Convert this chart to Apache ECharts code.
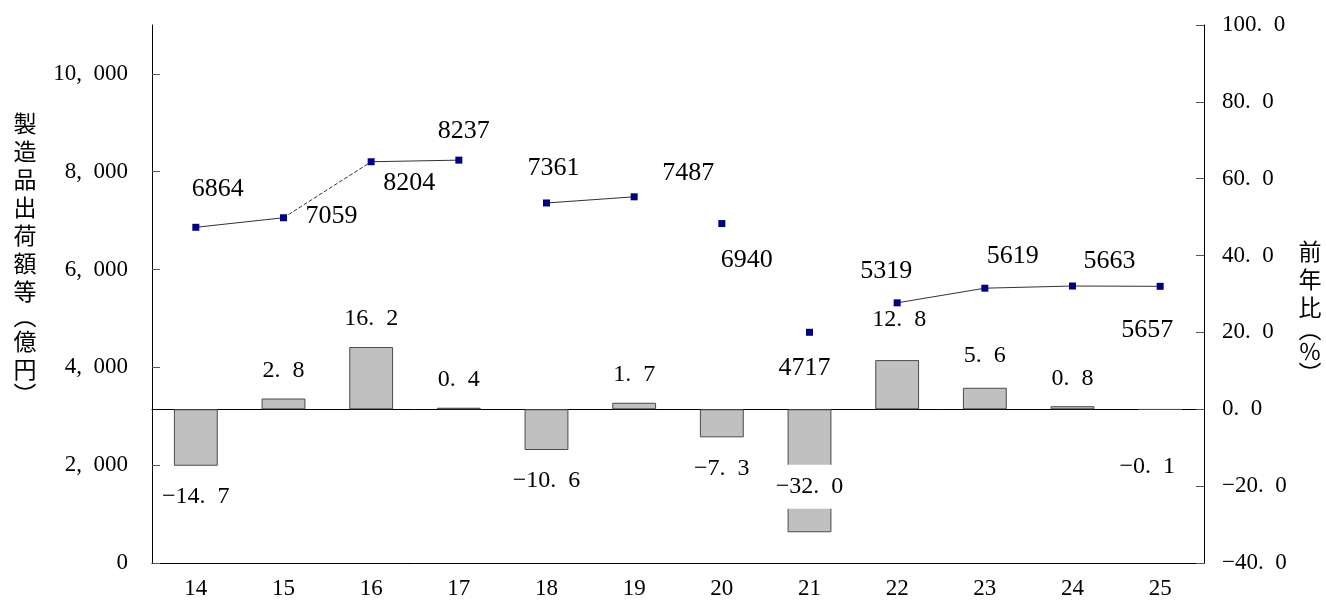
<!DOCTYPE html>
<html>
<head>
<meta charset="utf-8">
<style>
  html, body { margin: 0; padding: 0; background: #fff; }
  #chart { width: 1326px; height: 603px; }
</style>
<script src="https://cdn.jsdelivr.net/npm/echarts@6/dist/echarts.min.js"></script>
</head>
<body>
<div id="chart"></div>
<script>
// Fiscal years on the category axis
const years = ['14', '15', '16', '17', '18', '19', '20', '21', '22', '23', '24', '25'];
// Shipment value of manufactured goods (100 million yen) – line
const shipments = [6864, 7059, 8204, 8237, 7361, 7487, 6940, 4717, 5319, 5619, 5663, 5657];
// Year-on-year change (%) – bars
const yoyChange = [-14.7, 2.8, 16.2, 0.4, -10.6, 1.7, -7.3, -32.0, 12.8, 5.6, 0.8, -0.1];
// Left axis tick values
const shipmentTicks = [0, 2000, 4000, 6000, 8000, 10000];
// Which neighbouring years are joined, and how
const links = [[0, 1, 'solid'], [1, 2, 'dashed'], [2, 3, 'solid'], [4, 5, 'solid'],
               [8, 9, 'solid'], [9, 10, 'solid'], [10, 11, 'solid']];

// Label placement (pixel offsets from each marker)
const shipLabelOffset = [[22, -38], [48, -2], [38, 21], [5, -29], [7, -35], [54, -24],
                         [25, 37], [-5, 36], [-11, -32], [28, -32], [37, -25], [-13, 44]];
// Extra nudges for a few bar labels
const barLabelNudge = { 8: [2, -12], 9: [0, -4], 11: [-13, 26] };

const NUM_FONT = '"Liberation Serif", "DejaVu Serif", serif';
const CJK_FONT = '"Noto Sans CJK JP", "Noto Sans CJK SC", sans-serif';
const GAP = '\u2002';

function fmtPct(v) {
  return v.toFixed(1).replace('.', '.' + GAP).replace('-', '\u2212');
}
function fmtThousands(v) {
  return v.toLocaleString('en-US').replace(',', ',' + GAP);
}

const chart = echarts.init(document.getElementById('chart'), null, { renderer: 'canvas' });

const lineSeries = links.map(([a, b, style]) => ({
  type: 'line',
  xAxisIndex: 0,
  yAxisIndex: 0,
  data: shipments.map((v, i) => (i === a || i === b) ? v : null),
  connectNulls: false,
  showSymbol: false,
  symbol: 'none',
  silent: true,
  animation: false,
  lineStyle: { color: '#333333', width: 1, type: style === 'dashed' ? [4, 2] : 'solid' },
  z: 3
}));

const barData = yoyChange.map((v, i) => {
  const item = { value: v, label: {} };
  if (i === 7) {
    item.label = {
      position: 'inside',
      offset: [0, 16],
      backgroundColor: '#ffffff',
      padding: [10, 4]
    };
  } else {
    item.label.position = v >= 0 ? 'top' : 'bottom';
    item.label.distance = v >= 0 ? 16 : 19;
    if (barLabelNudge[i]) item.label.offset = barLabelNudge[i];
  }
  return item;
});

const option = {
  backgroundColor: '#ffffff',
  animation: false,
  grid: { left: 152, right: 122, top: 25, bottom: 40, containLabel: false },
  xAxis: [
    {
      type: 'category',
      data: years,
      position: 'bottom',
      boundaryGap: true,
      axisLine: { onZero: false, lineStyle: { color: '#000', width: 1 } },
      axisTick: { inside: true, length: 8, lineStyle: { color: '#555' } },
      axisLabel: { color: '#000', fontFamily: NUM_FONT, fontSize: 23, margin: 14 },
      splitLine: { show: false }
    },
    {
      type: 'category',
      data: years,
      position: 'top',
      boundaryGap: true,
      axisLine: { onZero: true, onZeroAxisIndex: 1, lineStyle: { color: '#000', width: 1 } },
      axisTick: { inside: false, length: 8, lineStyle: { color: '#555' } },
      axisLabel: { show: false },
      splitLine: { show: false }
    }
  ],
  yAxis: [
    {
      type: 'value',
      min: 0,
      max: 11000,
      interval: 2000,
      position: 'left',
      axisLine: { show: true, lineStyle: { color: '#000', width: 1 } },
      axisTick: { show: true, inside: true, length: 8, customValues: shipmentTicks, lineStyle: { color: '#555' } },
      axisLabel: {
        customValues: shipmentTicks,
        color: '#000', fontFamily: NUM_FONT, fontSize: 23, margin: 24,
        formatter: v => fmtThousands(v)
      },
      splitLine: { show: false }
    },
    {
      type: 'value',
      min: -40,
      max: 100,
      interval: 20,
      position: 'right',
      axisLine: { show: true, lineStyle: { color: '#000', width: 1 } },
      axisTick: { show: true, inside: true, length: 8, lineStyle: { color: '#555' } },
      axisLabel: {
        color: '#000', fontFamily: NUM_FONT, fontSize: 23, margin: 18,
        formatter: v => fmtPct(v)
      },
      splitLine: { show: false }
    }
  ],
  series: [
    {
      type: 'bar',
      name: '前年比',
      xAxisIndex: 0,
      yAxisIndex: 1,
      barWidth: '50%',
      data: barData,
      itemStyle: { color: '#c0c0c0', borderColor: '#4a4a4a', borderWidth: 1 },
      label: {
        show: true,
        color: '#000',
        fontFamily: NUM_FONT,
        fontSize: 24,
        formatter: p => fmtPct(p.value)
      },
      z: 2
    },
    ...lineSeries,
    {
      type: 'scatter',
      name: '製造品出荷額等',
      xAxisIndex: 0,
      yAxisIndex: 0,
      symbol: 'rect',
      symbolSize: 7,
      itemStyle: { color: '#000080', opacity: 1 },
      data: shipments.map((v, i) => ({
        value: v,
        label: { offset: shipLabelOffset[i] }
      })),
      label: {
        show: true,
        position: 'inside',
        color: '#000',
        fontFamily: NUM_FONT,
        fontSize: 26,
        formatter: p => String(p.value)
      },
      z: 5
    }
  ],
  graphic: [
    {
      type: 'text',
      left: 13,
      top: 112,
      style: {
        text: ['製', '造', '品', '出', '荷', '額', '等'].map(c => '{c|' + c + '}').join('\n')
          + '\n{p|\uFE35}\n{c|億}\n{c|円}\n{p|\uFE36}',
        fontFamily: CJK_FONT,
        fill: '#000',
        rich: {
          c: { fontSize: 23, lineHeight: 28, fontFamily: CJK_FONT, fill: '#000', align: 'center', width: 24 },
          p: { fontSize: 23, lineHeight: 22, fontFamily: CJK_FONT, fill: '#000', align: 'center', width: 24 }
        }
      }
    },
    {
      type: 'text',
      left: 1298,
      top: 240,
      style: {
        text: '{c|前}\n{c|年}\n{c|比}\n{p|\uFE35}\n{c|％}\n{p|\uFE36}',
        fontFamily: CJK_FONT,
        fill: '#000',
        rich: {
          c: { fontSize: 23, lineHeight: 28, fontFamily: CJK_FONT, fill: '#000', align: 'center', width: 24 },
          p: { fontSize: 23, lineHeight: 16, fontFamily: CJK_FONT, fill: '#000', align: 'center', width: 24 }
        }
      }
    }
  ]
};

chart.setOption(option);
</script>
</body>
</html>
